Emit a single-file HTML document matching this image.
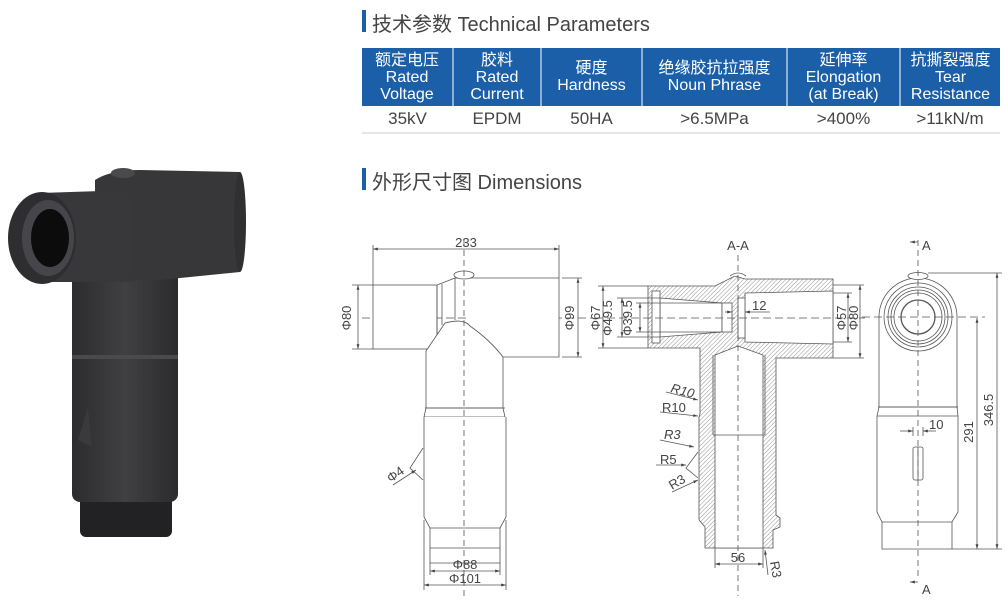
<!DOCTYPE html>
<html><head><meta charset="utf-8">
<style>
body{margin:0;width:1008px;height:600px;background:#fff;overflow:hidden;position:relative;font-family:"Liberation Sans","Noto Sans CJK SC",sans-serif;}
.t{position:absolute;color:#444;font-size:20px;white-space:nowrap}
.bar{position:absolute;width:4px;background:#1a5fa8}
table{position:absolute;left:362px;top:48px;width:638px;border-collapse:collapse;}
th{background:#1a5fa8;color:#fff;font-weight:normal;font-size:16px;line-height:17px;height:58px;padding:0;border-left:2px solid #8fb0d6;text-align:center}
th:first-child{border-left:none}
td{color:#444;font-size:17px;text-align:center;height:26px;padding:0;border-bottom:2px solid #e6e6e6}
svg{position:absolute;left:0;top:0}
</style></head><body>
<div class="bar" style="left:362px;top:10px;height:22px"></div>
<div class="t" style="left:372px;top:8px">技术参数 Technical Parameters</div>
<table>
<tr><th style="width:90px">额定电压<br>Rated<br>Voltage</th><th style="width:86px">胶料<br>Rated<br>Current</th><th style="width:99px">硬度<br>Hardness</th><th style="width:143px">绝缘胶抗拉强度<br>Noun Phrase</th><th style="width:111px">延伸率<br>Elongation<br>(at Break)</th><th>抗撕裂强度<br>Tear<br>Resistance</th></tr>
<tr><td>35kV</td><td>EPDM</td><td>50HA</td><td>&gt;6.5MPa</td><td>&gt;400%</td><td>&gt;11kN/m</td></tr>
</table>
<div class="bar" style="left:362px;top:168px;height:22px"></div>
<div class="t" style="left:372px;top:166px">外形尺寸图 Dimensions</div>

<svg width="1008" height="600" viewBox="0 0 1008 600" font-family="Liberation Sans, sans-serif" font-size="13" fill="none" stroke="#555" stroke-width="0.8">
<defs>
<pattern id="h" width="3" height="3" patternUnits="userSpaceOnUse" patternTransform="rotate(45)"><line x1="0" y1="0" x2="0" y2="3" stroke="#666" stroke-width="0.7"/></pattern>
<marker id="a" viewBox="0 0 10 10" refX="10" refY="5" markerWidth="6" markerHeight="6" orient="auto-start-reverse"><path d="M0,2L10,5L0,8z" fill="#444" stroke="none"/></marker>
<linearGradient id="g" x1="0" x2="1"><stop offset="0" stop-color="#2c2c2e"/><stop offset="0.5" stop-color="#404043"/><stop offset="1" stop-color="#2b2b2d"/></linearGradient>
</defs>

<!-- product photo -->
<g stroke="none">
<rect x="80" y="495" width="92" height="42" rx="6" fill="#222224"/>
<rect x="72" y="240" width="106" height="262" rx="8" fill="url(#g)"/>
<rect x="72" y="355" width="106" height="4" fill="#4a4a4d"/>
<path d="M95,180 Q110,170 140,170 L240,172 Q246,220 240,272 L160,280 L95,280z" fill="#37373a"/>
<ellipse cx="240" cy="222" rx="6" ry="50" fill="#303033"/>
<path d="M40,193 L130,190 L135,282 L40,282z" fill="#38383b"/>
<ellipse cx="42" cy="238" rx="34" ry="46" fill="#2e2e31"/>
<ellipse cx="48" cy="238" rx="26" ry="38" fill="#45454a"/>
<ellipse cx="50" cy="238" rx="19" ry="29" fill="#0c0c0d"/>
<ellipse cx="123" cy="173" rx="12" ry="5" fill="#4a4a4d"/>
<path d="M88,408 L78,440 L92,447z" fill="#3a3a3d"/>
</g>

<!-- LEFT drawing -->
<g>
<line x1="362" y1="318" x2="592" y2="318" stroke-dasharray="8,4"/>
<line x1="373" y1="249" x2="559" y2="249" marker-start="url(#a)" marker-end="url(#a)"/>
<line x1="373" y1="245" x2="373" y2="285"/><line x1="559" y1="245" x2="559" y2="278"/>
<rect x="373" y="285" width="64" height="64" fill="#fff"/>
<path d="M437,285 L455,278 L559,278 L559,357 L503,357" fill="#fff"/>
<line x1="437" y1="285" x2="437" y2="349"/><line x1="442" y1="284" x2="442" y2="325"/><line x1="455" y1="278" x2="455" y2="320"/>
<ellipse cx="464" cy="275" rx="10" ry="4" fill="#fff"/>
<path d="M426,351 L445,323 Q464,318 470,326 Q490,340 503,357 L503,408 L426,408z" fill="#fff"/>
<line x1="426" y1="408" x2="424" y2="417"/><line x1="503" y1="408" x2="505" y2="417"/>
<line x1="425" y1="408" x2="505" y2="408"/><line x1="424" y1="417" x2="505" y2="417"/>
<path d="M424,417 L424,517 L430,528 L430,563 L500,563 L500,528 L506,517 L506,417" fill="#fff"/>
<line x1="430" y1="528" x2="500" y2="528"/><line x1="430" y1="548" x2="500" y2="548"/>
<line x1="464" y1="240" x2="464" y2="596" stroke-dasharray="6,4"/>
<line x1="562" y1="278" x2="582" y2="278"/><line x1="562" y1="357" x2="582" y2="357"/>
<line x1="578" y1="278" x2="578" y2="357" marker-start="url(#a)" marker-end="url(#a)"/>
<line x1="352" y1="285" x2="373" y2="285"/><line x1="352" y1="349" x2="373" y2="349"/>
<line x1="358" y1="285" x2="358" y2="349" marker-start="url(#a)" marker-end="url(#a)"/>
<line x1="430" y1="563" x2="430" y2="575"/><line x1="500" y1="563" x2="500" y2="575"/>
<line x1="430" y1="571" x2="500" y2="571" marker-start="url(#a)" marker-end="url(#a)"/>
<line x1="424" y1="520" x2="424" y2="590"/><line x1="506" y1="520" x2="506" y2="590"/>
<line x1="424" y1="585" x2="506" y2="585" marker-start="url(#a)" marker-end="url(#a)"/>
<path d="M423,448 L410,468 L423,480" fill="#fff"/>
<line x1="393" y1="485" x2="416" y2="470" marker-end="url(#a)"/>
<g fill="#444" stroke="none">
<text x="466" y="247" text-anchor="middle">233</text>
<text transform="translate(351,318) rotate(-90)" text-anchor="middle">Φ80</text>
<text transform="translate(574,318) rotate(-90)" text-anchor="middle">Φ99</text>
<text x="465" y="569" text-anchor="middle">Φ88</text>
<text x="465" y="583" text-anchor="middle">Φ101</text>
<text transform="translate(398,478) rotate(-35)" text-anchor="middle">Φ4</text>
</g>
</g>

<!-- MIDDLE section -->
<g>
<path d="M648,286 L715,286 L735,276 L745,279 L833,279 L833,358 L776,358 L776,515 L780,518 L780,527 L773,530 L773,548 L705,548 L705,527 L699,520 L699,417 L700,414 L700,348 L648,348z" fill="url(#h)" stroke="#555"/>
<path d="M730,276 Q738,270 746,276" fill="#fff"/>
<path d="M660,298 L722,303 L722,332 L660,337z" fill="#fff"/>
<rect x="652" y="291" width="8" height="52" fill="#fff"/>
<path d="M745,293 L833,291 L833,344 L745,342z" fill="#fff"/>
<rect x="722" y="303" width="10" height="29" fill="#fff"/><rect x="738" y="298" width="7" height="40" fill="#fff"/>
<path d="M715,548 L715,355 L738,346 L763,355 L763,548z" fill="#fff"/>
<line x1="713" y1="355" x2="713" y2="435"/><line x1="765" y1="355" x2="765" y2="435"/>
<line x1="713" y1="435" x2="765" y2="435"/>
<line x1="738" y1="255" x2="738" y2="596" stroke-dasharray="6,4"/>
<line x1="595" y1="318" x2="865" y2="318" stroke-dasharray="8,4"/>
<line x1="598" y1="286" x2="648" y2="286"/><line x1="598" y1="348" x2="648" y2="348"/>
<line x1="603" y1="286" x2="603" y2="348" marker-start="url(#a)" marker-end="url(#a)"/>
<line x1="617" y1="298" x2="660" y2="298"/><line x1="617" y1="337" x2="660" y2="337"/>
<line x1="622" y1="298" x2="622" y2="337" marker-start="url(#a)" marker-end="url(#a)"/>
<line x1="636" y1="303" x2="722" y2="303"/><line x1="636" y1="332" x2="722" y2="332"/>
<line x1="640" y1="303" x2="640" y2="332" marker-start="url(#a)" marker-end="url(#a)"/>
<line x1="833" y1="293" x2="852" y2="293"/><line x1="833" y1="342" x2="852" y2="342"/>
<line x1="848" y1="293" x2="848" y2="342" marker-start="url(#a)" marker-end="url(#a)"/>
<line x1="833" y1="285" x2="864" y2="285"/><line x1="833" y1="358" x2="864" y2="358"/>
<line x1="860" y1="285" x2="860" y2="358" marker-start="url(#a)" marker-end="url(#a)"/>
<line x1="725" y1="312" x2="732" y2="312" marker-end="url(#a)"/><line x1="770" y1="312" x2="745" y2="312" marker-end="url(#a)"/>
<line x1="715" y1="548" x2="715" y2="568"/><line x1="763" y1="548" x2="763" y2="568"/>
<line x1="715" y1="564" x2="763" y2="564" marker-start="url(#a)" marker-end="url(#a)"/>
<line x1="768" y1="575" x2="765" y2="550" marker-end="url(#a)"/>
<line x1="666" y1="392" x2="698" y2="400" marker-end="url(#a)"/>
<line x1="660" y1="412" x2="698" y2="416" marker-end="url(#a)"/>
<line x1="660" y1="440" x2="694" y2="447" marker-end="url(#a)"/>
<line x1="656" y1="465" x2="686" y2="465" marker-end="url(#a)"/>
<line x1="672" y1="492" x2="698" y2="480" marker-end="url(#a)"/>
<path d="M698,452 L686,468 L698,478" fill="#fff"/>
<g fill="#444" stroke="none">
<text x="738" y="250" text-anchor="middle">A-A</text>
<text x="752" y="310">12</text>
<text x="738" y="562" text-anchor="middle">56</text>
<text transform="translate(770,562) rotate(80)">R3</text>
<text transform="translate(670,392) rotate(15)" font-style="italic">R10</text>
<text x="662" y="412">R10</text>
<text x="664" y="439" font-style="italic">R3</text>
<text x="660" y="464">R5</text>
<text transform="translate(672,490) rotate(-30)">R3</text>
<text transform="translate(612,318) rotate(-90)" text-anchor="middle">Φ49.5</text>
<text transform="translate(632,318) rotate(-90)" text-anchor="middle">Φ39.5</text>
<text transform="translate(600,318) rotate(-90)" text-anchor="middle">Φ67</text>
<text transform="translate(846,318) rotate(-90)" text-anchor="middle">Φ57</text>
<text transform="translate(858,318) rotate(-90)" text-anchor="middle">Φ80</text>
</g>
</g>

<!-- RIGHT view -->
<g>
<path d="M879,317 A39,39 0 0 1 957,317 L957,407 L879,407z" fill="#fff"/>
<circle cx="918" cy="317" r="34"/><circle cx="918" cy="317" r="30"/><circle cx="918" cy="317" r="27"/><circle cx="918" cy="317" r="24"/><circle cx="918" cy="317" r="17" stroke-width="1.3"/>
<ellipse cx="918" cy="276" rx="10" ry="3.5" fill="#fff"/>
<line x1="878" y1="407" x2="958" y2="407"/><line x1="877" y1="416" x2="958" y2="416"/>
<line x1="879" y1="407" x2="877" y2="416"/><line x1="957" y1="407" x2="958" y2="416"/>
<path d="M877,416 L877,512 L882,522 L882,549 L952,549 L952,522 L958,512 L958,416"/>
<line x1="882" y1="522" x2="952" y2="522"/>
<rect x="913" y="447" width="10" height="33" rx="2" fill="#fff"/><line x1="918" y1="447" x2="918" y2="480"/>
<line x1="918" y1="240" x2="918" y2="580" stroke-dasharray="6,4"/>
<line x1="862" y1="317" x2="985" y2="317" stroke-dasharray="8,4"/>
<line x1="928" y1="273" x2="1002" y2="273"/><line x1="952" y1="549" x2="1002" y2="549"/>
<line x1="977" y1="318" x2="977" y2="549" marker-start="url(#a)" marker-end="url(#a)"/>
<line x1="997" y1="273" x2="997" y2="549" marker-start="url(#a)" marker-end="url(#a)"/>
<line x1="913" y1="427" x2="913" y2="436"/><line x1="923" y1="427" x2="923" y2="436"/>
<line x1="900" y1="431" x2="913" y2="431" marker-end="url(#a)"/><line x1="936" y1="431" x2="923" y2="431" marker-end="url(#a)"/>
<line x1="910" y1="242" x2="918" y2="242" marker-start="url(#a)"/>
<line x1="910" y1="582" x2="918" y2="582" marker-start="url(#a)"/>
<g fill="#444" stroke="none">
<text x="922" y="250">A</text>
<text x="922" y="594">A</text>
<text x="929" y="429">10</text>
<text transform="translate(973,432) rotate(-90)" text-anchor="middle">291</text>
<text transform="translate(993,410) rotate(-90)" text-anchor="middle">346.5</text>
</g>
</g>
</svg>
</body></html>
